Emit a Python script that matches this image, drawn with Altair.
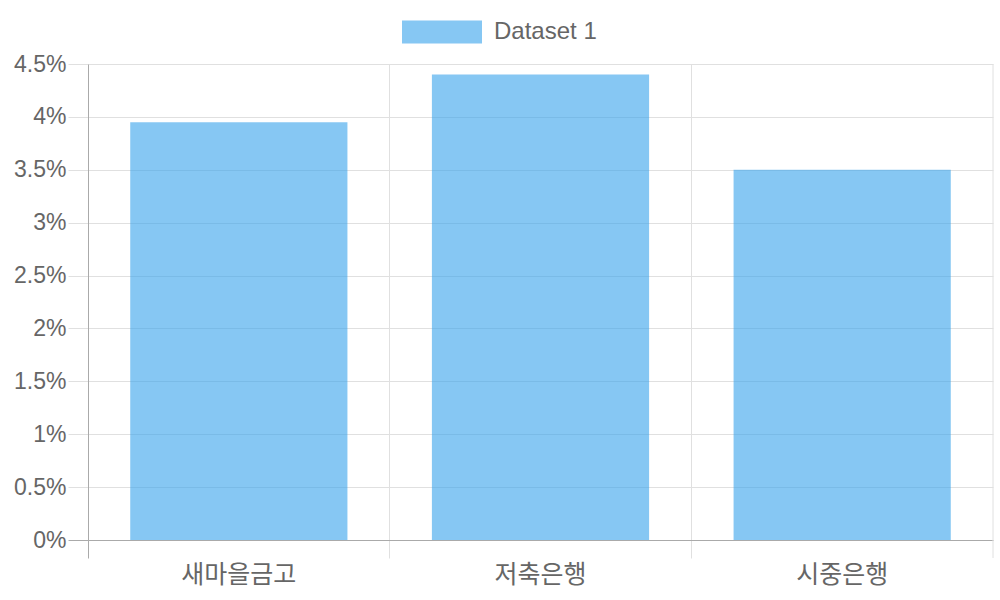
import altair as alt
import pandas as pd

# Interest rates by institution type (%)
categories = ["새마을금고", "저축은행", "시중은행"]
rates = [3.95, 4.4, 3.5]
series_name = "Dataset 1"

df = pd.DataFrame({"기관": categories, "금리": rates, "series": [series_name] * len(categories)})
edge = pd.DataFrame({"기관": [categories[-1]]})

GRID = "#e0e0e0"
AXIS = "#aaaaaa"
TEXT = "#666666"
FONT = "Liberation Sans, Noto Sans CJK KR, sans-serif"

x_scale = alt.Scale(domain=categories, paddingInner=0, paddingOuter=0)

bars = alt.Chart(df).mark_bar(
    width=alt.RelativeBandSize(0.72),
    fillOpacity=0.6,
).encode(
    x=alt.X(
        "기관:N",
        scale=x_scale,
        sort=categories,
        title=None,
        axis=alt.Axis(
            bandPosition=0,
            labelAngle=0,
            labelFontSize=25,
            labelColor=TEXT,
            labelFont=FONT,
            labelPadding=4,
            tickSize=18,
            tickColor={"condition": {"test": "datum.value === '새마을금고'", "value": AXIS}, "value": GRID},
            grid=True,
            gridColor=GRID,
            domainColor=AXIS,
        ),
    ),
    y=alt.Y(
        "금리:Q",
        scale=alt.Scale(domain=[0, 4.5], nice=False),
        title=None,
        axis=alt.Axis(
            values=[0, 0.5, 1, 1.5, 2, 2.5, 3, 3.5, 4, 4.5],
            labelExpr="datum.value + '%'",
            labelFontSize=23,
            labelColor=TEXT,
            labelFont=FONT,
            labelPadding=2,
            tickSize=20,
            tickColor={"condition": {"test": "datum.value === 0", "value": AXIS}, "value": GRID},
            gridColor=GRID,
            domainColor=AXIS,
        ),
    ),
    color=alt.Color(
        "series:N",
        scale=alt.Scale(range=["rgb(54,162,235)"]),
        legend=alt.Legend(
            title=None,
            orient="none",
            legendX=314,
            legendY=-72,
            direction="horizontal",
            symbolType="M-1,-0.29H1V0.29H-1Z",
            symbolSize=6400,
            symbolOpacity=0.6,
            symbolStrokeWidth=0,
            labelFontSize=24,
            labelColor=TEXT,
            labelFont=FONT,
            labelOffset=12,
            padding=0,
        ),
    ),
)

# closing line at the right edge of the last category band
right_edge = alt.Chart(edge).mark_rule(color=GRID, strokeWidth=1).encode(
    x=alt.X("기관:N", bandPosition=1, scale=x_scale, sort=categories),
    y=alt.value(0),
    y2=alt.value(494),
)

chart = alt.layer(bars, right_edge).properties(
    width=905,
    height=476,
    autosize=alt.AutoSizeParams(type="none"),
    padding={"left": 88, "top": 64, "right": 7, "bottom": 60},
).configure_view(stroke=None)

chart.save("out.html", embed_options={"renderer": "svg", "actions": False})
